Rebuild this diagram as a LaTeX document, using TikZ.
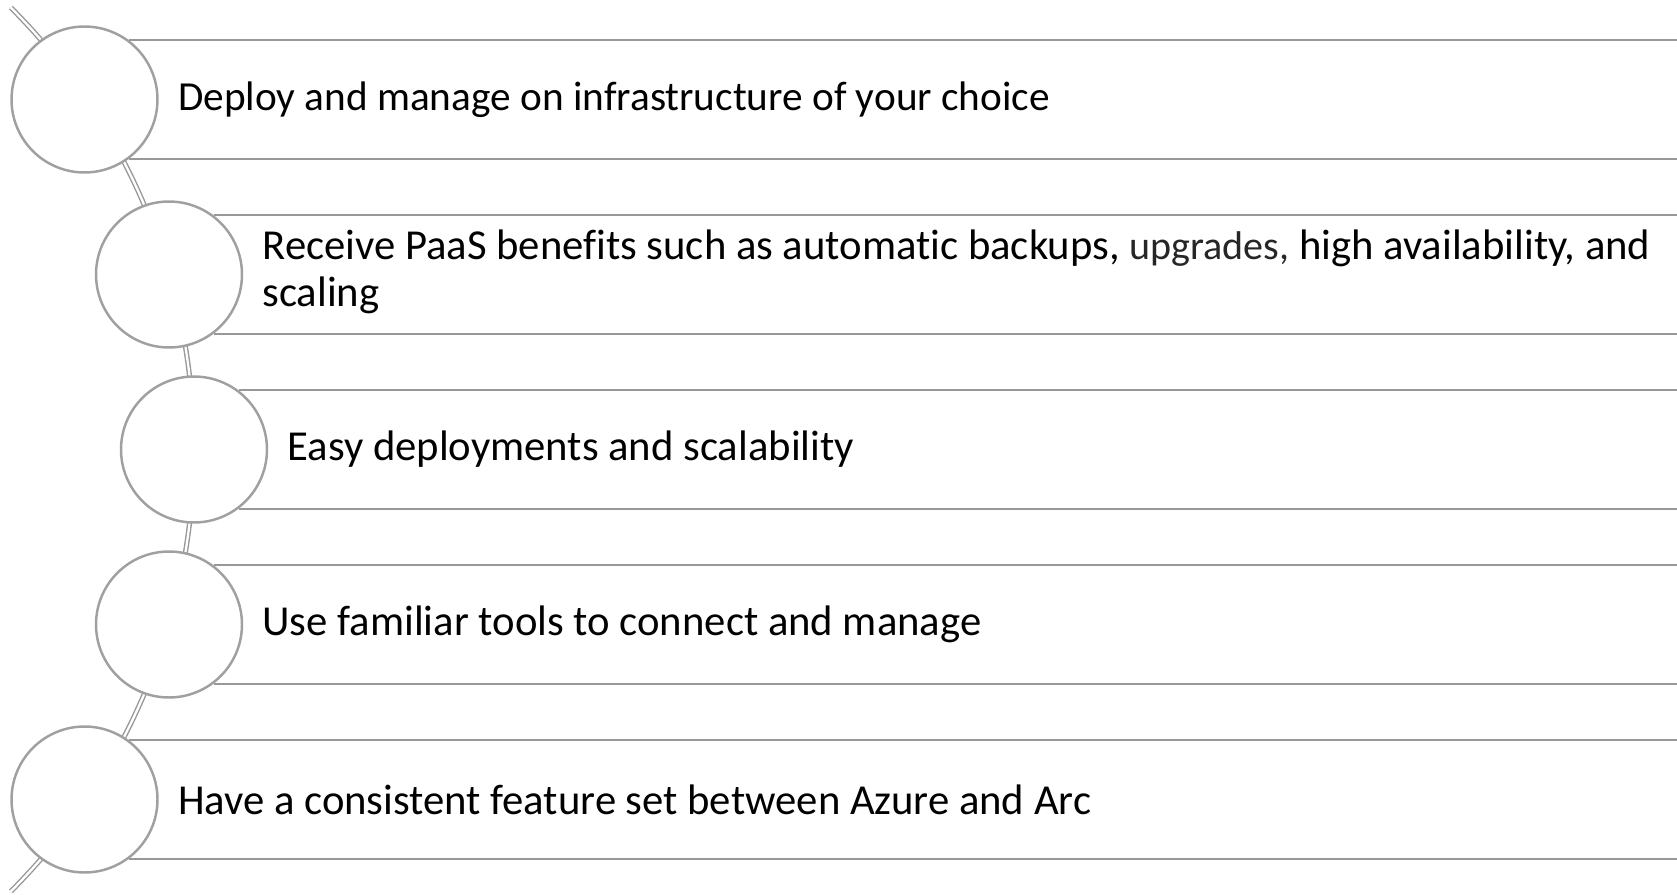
\documentclass[tikz,border=0pt]{standalone}
\usepackage{fontspec}
\setmainfont{Carlito}[Ligatures=NoCommon]
\usetikzlibrary{positioning}
\definecolor{circgray}{RGB}{160,160,160}
\definecolor{linegray}{RGB}{152,152,152}

\begin{document}
\begin{tikzpicture}[x=0.02cm, y=0.02cm,
        dot/.style={circle, draw=circgray, fill=white, line width=1.4pt,
            inner sep=0pt, minimum size=2.92cm},
        band/.style={draw=linegray, line width=1.4pt},
        spine/.style={draw=linegray, line width=0.8pt, double=white, double distance=1.3pt},
        itemtext/.style={inner sep=0pt, align=left, font=\fontsize{24.3}{26.7}\selectfont}]
        \useasboundingbox (0,0) rectangle (1677,894);
        % 背景弧线
        \coordinate (hub) at (-431,444.5);
        \draw[spine] (hub) ++(45:12.5cm) arc[start angle=45, end angle=-45, radius=12.5cm];
        % 圆圈
        \node[dot] (c1) at (84.5,794.5) {};
        \node[dot] (c2) at (169,619.5) {};
        \node[dot] (c3) at (194,444.5) {};
        \node[dot] (c4) at (169,269.5) {};
        \node[dot] (c5) at (84.5,94.5) {};
        % 横线
        \coordinate (edge) at (1677,0);
        \draw[band] (c1.53) -- (c1.53 -| edge);
        \draw[band] (c1.-53) -- (c1.-53 -| edge);
        \draw[band] (c2.53) -- (c2.53 -| edge);
        \draw[band] (c2.-53) -- (c2.-53 -| edge);
        \draw[band] (c3.53) -- (c3.53 -| edge);
        \draw[band] (c3.-53) -- (c3.-53 -| edge);
        \draw[band] (c4.53) -- (c4.53 -| edge);
        \draw[band] (c4.-53) -- (c4.-53 -| edge);
        \draw[band] (c5.53) -- (c5.53 -| edge);
        \draw[band] (c5.-53) -- (c5.-53 -| edge);
        % 文字
        \node[itemtext, right=0.38cm of c1, font=\fontsize{23.5}{26.7}\selectfont] (t1)
            {Deploy and manage on infrastructure of your choice};
        \node[itemtext, right=0.38cm of c2, yshift=0.06cm] (t2) {Receive PaaS benefits such as automatic backups,
            {\fontsize{22.8}{26.7}\selectfont\color{black!85}upgrades,} high availability, and\\scaling};
        \node[itemtext, right=0.38cm of c3] (t3) {Easy deployments and scalability};
        \node[itemtext, right=0.38cm of c4] (t4) {Use familiar tools to connect and manage};
        \node[itemtext, right=0.38cm of c5] (t5) {Have a consistent feature set between Azure and Arc};
\end{tikzpicture}
\end{document}
